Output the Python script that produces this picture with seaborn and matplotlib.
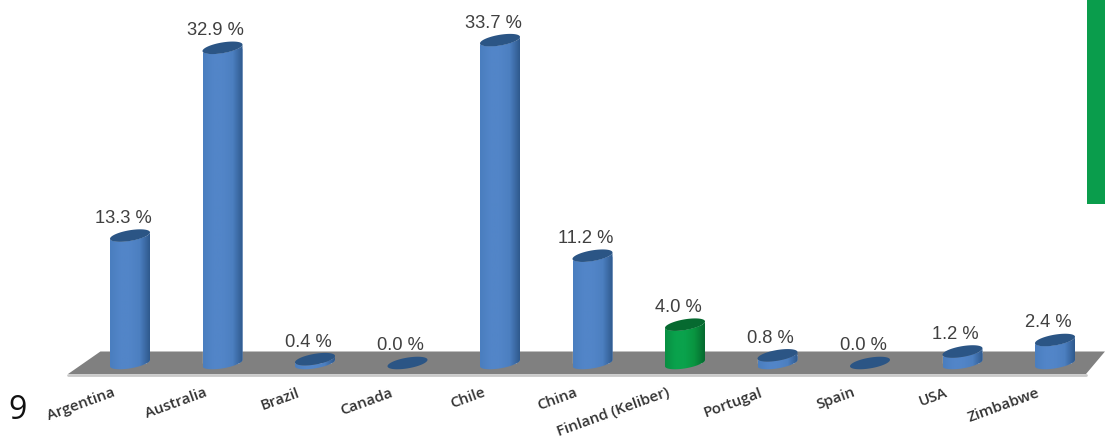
"""
Cylinder-style bar chart of country shares, with a grey floor under the bars.
"""

import numpy as np
import seaborn as sns
import matplotlib.pyplot as plt
from matplotlib.colors import LinearSegmentedColormap
from matplotlib.patches import Polygon, Rectangle
from matplotlib.transforms import ScaledTranslation

countries = ["Argentina", "Australia", "Brazil", "Canada", "Chile", "China",
             "Finland (Keliber)", "Portugal", "Spain", "USA", "Zimbabwe"]
shares = [13.3, 32.9, 0.4, 0.0, 33.7, 11.2, 4.0, 0.8, 0.0, 1.2, 2.4]
highlight = "Finland (Keliber)"

BLUE = ["#4a7ebf", "#5285c8", "#5285c8", "#4c7fc0", "#2f5a8e"]
GREEN = ["#088f42", "#0aa24c", "#0aa24c", "#09933f", "#066a30"]
BLUE_TOP = "#2b5585"
GREEN_TOP = "#066a30"

PX_PER_UNIT = 9.58  # vertical pixels per percent
PX_PER_CAT = 92.5   # horizontal pixels per category


def rim(cx, cy, half_w, theta):
    """Points on a tilted ellipse, the end of a cylinder, in data units."""
    b = 5.4 / PX_PER_UNIT
    tilt = 3.2 / PX_PER_UNIT
    return np.column_stack([cx + half_w * np.cos(theta),
                            cy + b * np.sin(theta) + tilt * np.cos(theta)])


def draw_cylinders(ax):
    """Turn the seaborn bars into shaded cylinders."""
    lower = np.linspace(np.pi, 2 * np.pi, 40)
    full = np.linspace(0, 2 * np.pi, 80)
    for bar, name in zip(ax.patches, countries):
        half_w = bar.get_width() / 2
        cx = bar.get_x() + half_w
        top = bar.get_height()
        colors, lid = (GREEN, GREEN_TOP) if name == highlight else (BLUE, BLUE_TOP)
        body = Polygon(np.vstack([rim(cx, 0, half_w, lower),
                                  rim(cx, top, half_w, lower[::-1])]),
                       transform=ax.transData, facecolor="none", edgecolor="none")
        ax.add_patch(body)
        bar.set_clip_path(body)
        shade = LinearSegmentedColormap.from_list("shade", colors)
        img = ax.imshow(np.linspace(0, 1, 64).reshape(1, -1), cmap=shade, aspect="auto",
                        extent=(cx - half_w, cx + half_w, -1.5, top + 1), zorder=2.5)
        img.set_clip_path(body)
        ax.fill(*rim(cx, top, half_w, full).T, color=lid, lw=0, zorder=3)
        ax.annotate(f"{top:.1f} %", (cx, top), xytext=(-5, 13), textcoords="offset points",
                    ha="center", va="center", fontsize=13.2, color="#404040",
                    family="Liberation Sans", zorder=4)


def main():
    sns.set_theme(style="white")
    fig = plt.figure(figsize=(11.05, 4.39), dpi=100)
    ax = fig.add_axes([0, 1 - 380 / 439, 1, 380 / 439])

    palette = ["#0aa24c" if c == highlight else "#5285c8" for c in countries]
    sns.barplot(x=countries, y=shares, hue=countries, palette=palette, legend=False,
                width=40 / PX_PER_CAT, saturation=1, ax=ax, zorder=2)

    # floor the cylinders stand on
    floor = [(-0.67, -1.15), (-0.32, 1.2), (10.54, 1.2), (10.335, -1.15)]
    ax.add_patch(Polygon(floor, facecolor="#808080", edgecolor="none", zorder=1))
    ax.plot([-0.67, 10.335], [-1.3, -1.3], color="#c9c9c9", lw=2, zorder=1)

    draw_cylinders(ax)
    left = -130 / PX_PER_CAT
    ax.set_xlim(left, left + 1105 / PX_PER_CAT)
    ax.set_ylim(-16 / PX_PER_UNIT, 364 / PX_PER_UNIT)

    ax.set_xticks(range(len(countries)))
    ax.set_xticklabels(countries, rotation=20, ha="right", rotation_mode="anchor",
                       fontsize=10.8, color="#333333", family="Open Sans", fontweight="semibold")
    ax.tick_params(axis="x", length=0, pad=4)
    shift = ScaledTranslation(-18 / 100, 0, fig.dpi_scale_trans)
    for lab in ax.get_xticklabels():
        lab.set_transform(lab.get_transform() + shift)
    ax.set_yticks([])
    ax.set_ylabel("")
    sns.despine(ax=ax, left=True, bottom=True)
    ax.patch.set_visible(False)

    # pieces of the surrounding slide
    fig.add_artist(Rectangle((1087 / 1105, 1 - 205 / 439), 18 / 1105, 205 / 439,
                             transform=fig.transFigure, facecolor="#0a9d4c", edgecolor="none"))
    fig.text(8 / 1105, 1 - 411 / 439, "9", fontsize=23, color="#111111",
             family="Open Sans", va="center")

    fig.savefig("out.png", dpi=100)


if __name__ == '__main__':
    main()
